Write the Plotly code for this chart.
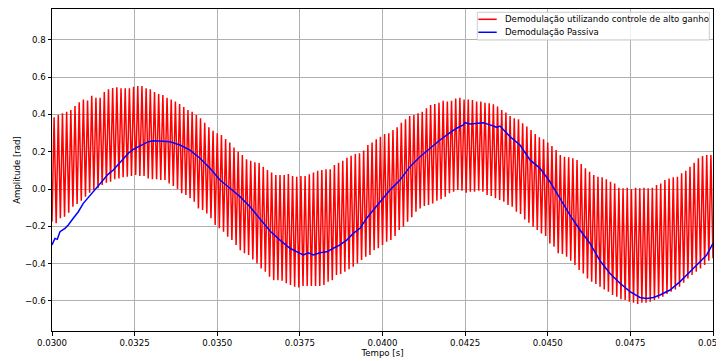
import numpy as np
import plotly.graph_objects as go

# Upper envelope (peaks) of the high-gain demodulation, one per cycle
red_peaks = [0.385,0.397,0.406,0.415,0.424,0.446,0.465,0.48,0.475,0.50,
0.49,0.49,0.52,0.535,0.542,0.546,0.54,0.54,0.54,0.549,
0.553,0.553,0.54,0.535,0.52,0.51,0.505,0.49,0.48,0.469,
0.456,0.44,0.424,0.415,0.397,0.38,0.356,0.331,0.313,0.299,
0.29,0.268,0.249,0.222,0.2,0.183,0.159,0.152,0.143,0.14,
0.12,0.102,0.088,0.075,0.075,0.075,0.08,0.07,0.066,0.07,
0.07,0.079,0.088,0.098,0.102,0.106,0.106,0.129,0.141,0.152,
0.168,0.179,0.188,0.192,0.206,0.236,0.249,0.267,0.281,0.295,
0.299,0.317,0.331,0.356,0.374,0.392,0.397,0.406,0.415,0.433,
0.451,0.456,0.463,0.474,0.469,0.474,0.486,0.49,0.48,0.48,
0.478,0.469,0.469,0.463,0.46,0.455,0.442,0.424,0.41,0.392,
0.38,0.374,0.353,0.335,0.317,0.295,0.277,0.267,0.249,0.231,
0.209,0.183,0.173,0.17,0.165,0.156,0.134,0.111,0.093,0.075,
0.066,0.063,0.052,0.039,0.03,0.007,0.004,0.007,0.0,0.007,
0.004,0.007,0.004,0.007,0.021,0.03,0.048,0.057,0.063,0.066,
0.084,0.098,0.12,0.141,0.165,0.177,0.183,0.183]

# Lower envelope (troughs), one before each peak plus the final one
red_troughs = [-0.175,-0.184,-0.157,-0.149,-0.127,-0.095,-0.08,-0.063,-0.041,-0.02,
-0.005,0.004,0.021,0.034,0.039,0.052,0.057,0.063,0.066,0.07,
0.075,0.07,0.07,0.057,0.052,0.052,0.048,0.048,
0.03,0.016,0.0,-0.023,-0.032,-0.05,-0.068,-0.104,-0.113,-0.131,
-0.157,-0.193,-0.211,-0.229,-0.256,-0.274,-0.3,-0.328,-0.345,-0.354,
-0.378,-0.4,-0.426,-0.444,-0.471,-0.489,
-0.489,-0.492,-0.506,-0.515,-0.524,-0.528,-0.52,-0.52,-0.52,-0.52,
-0.52,-0.515,-0.497,-0.489,-0.462,-0.456,-0.444,-0.431,-0.417,-0.4,
-0.381,-0.363,-0.354,-0.328,-0.318,-0.3,-0.283,
-0.274,-0.252,-0.22,-0.202,-0.175,-0.152,-0.122,-0.104,-0.091,-0.086,
-0.077,-0.063,-0.055,-0.041,-0.023,-0.014,-0.005,-0.009,-0.02,-0.014,
-0.014,-0.009,-0.014,-0.032,-0.038,
-0.05,-0.059,-0.068,-0.086,-0.095,-0.122,-0.134,-0.163,-0.181,-0.202,
-0.22,-0.238,-0.252,-0.292,-0.31,-0.345,-0.349,-0.363,-0.385,-0.408,
-0.435,-0.453,-0.48,-0.497,-0.51,-0.524,-0.539,
-0.551,-0.569,-0.578,-0.592,-0.596,-0.605,-0.61,-0.617,-0.61,-0.61,
-0.605,-0.596,-0.587,-0.578,-0.564,-0.551,-0.539,-0.524,-0.503,-0.48,
-0.462,-0.444,-0.426,-0.408,-0.385,-0.372]

# Passive demodulation
blue_t = [0.03,0.030091,0.03016,0.030242,0.030393,0.030493,0.030644,0.030796,0.030947,0.031098,
0.03125,0.031401,0.031552,0.031703,0.031855,0.032006,0.032157,0.032309,0.03246,0.032611,
0.032762,0.032914,0.033065,0.033216,0.033368,0.03357,0.033873,0.034175,0.034478,0.034781,
0.035083,0.035386,0.035688,0.035991,0.036293,0.036596,0.036899,0.037201,0.037504,0.037604,
0.037755,0.037906,0.038109,0.038312,0.038511,0.038714,0.038917,0.039116,0.039319,0.039522,
0.039722,0.039924,0.040227,0.04053,0.040832,0.041135,0.041437,0.04174,0.042042,0.042245,
0.042445,0.042496,0.042648,0.04285,0.04305,0.043253,0.043455,0.043555,0.043858,0.04416,
0.044463,0.044766,0.045068,0.045371,0.045673,0.045976,0.046278,0.046581,0.046884,0.047186,
0.047489,0.047791,0.047994,0.048194,0.048396,0.048699,0.049002,0.049304,0.049607,0.04981,0.05]
blue_v = [-0.30,-0.265,-0.27,-0.229,-0.211,-0.193,-0.157,-0.122,-0.077,-0.045,
-0.014,0.021,0.052,0.08,0.102,0.134,0.165,0.192,0.213,0.227,
0.24,0.254,0.259,0.259,0.256,0.254,0.236,0.209,0.165,0.111,
0.048,0.004,-0.041,-0.095,-0.157,-0.225,-0.274,-0.318,-0.345,-0.354,
-0.342,-0.354,-0.342,-0.337,-0.318,-0.3,-0.274,-0.238,-0.211,-0.157,
-0.113,-0.07,-0.005,0.048,0.12,0.173,0.218,0.263,0.302,0.326,
0.344,0.356,0.349,0.353,0.356,0.344,0.331,0.338,0.281,0.236,
0.156,0.111,0.039,-0.05,-0.14,-0.22,-0.292,-0.385,-0.453,-0.506,
-0.551,-0.582,-0.587,-0.582,-0.569,-0.542,-0.497,-0.444,-0.39,-0.354,-0.292]

x_ticks = [0.03, 0.0325, 0.035, 0.0375, 0.04, 0.0425, 0.045, 0.0475, 0.05]
x_labels = ["0.0300", "0.0325", "0.0350", "0.0375", "0.0400", "0.0425", "0.0450", "0.0475", "0.0500"]
y_ticks = [-0.6, -0.4, -0.2, 0.0, 0.2, 0.4, 0.6, 0.8]
y_labels = ["\u22120.6", "\u22120.4", "\u22120.2", "0.0", "0.2", "0.4", "0.6", "0.8"]

series_names = ["Demodulação utilizando controle de alto ganho", "Demodulação Passiva"]
series_colors = ["#ff0000", "#0000ff"]

red_v = [red_troughs[0]]
for k in range(len(red_peaks)):
    red_v.append(red_peaks[k])
    red_v.append(red_troughs[k + 1])
red_t = np.linspace(0.03, 0.05, len(red_v))

FONT = "DejaVu Sans"
FS = 8.6
fig = go.Figure()
fig.add_trace(go.Scatter(x=red_t, y=red_v, mode="lines",
                         line=dict(color=series_colors[0], width=1.5),
                         name=series_names[0], showlegend=False))
fig.add_trace(go.Scatter(x=blue_t, y=blue_v, mode="lines",
                         line=dict(color=series_colors[1], width=1.5),
                         name=series_names[1], showlegend=False))

axis_common = dict(showline=True, linecolor="black", linewidth=1, mirror=True,
                   ticks="outside", ticklen=3.5, tickcolor="black", tickwidth=0.8,
                   showgrid=True, gridcolor="#b0b0b0", gridwidth=0.8, zeroline=False,
                   automargin=False, ticklabeloverflow="allow",
                   tickfont=dict(family=FONT, size=FS, color="black"))

# Legend box drawn in paper coordinates (matplotlib-style compact legend)
shapes = [dict(type="rect", xref="paper", yref="paper", x0=0.6434, x1=0.9944, y0=0.9037, y1=0.9898,
               line=dict(color="#cccccc", width=1), fillcolor="rgba(255,255,255,0.8)", layer="above")]
annotations = []
leg_y = [0.968, 0.9277]
for name, col, yy in zip(series_names, series_colors, leg_y):
    shapes.append(dict(type="line", xref="paper", yref="paper", x0=0.6449, x1=0.6728, y0=yy, y1=yy,
                       line=dict(color=col, width=1.5), layer="above"))
    annotations.append(dict(xref="paper", yref="paper", x=0.6828, y=yy, text=name, showarrow=False,
                            xanchor="left", yanchor="middle", font=dict(family=FONT, size=FS, color="black")))

fig.update_layout(
    width=724, height=353,
    margin=dict(l=44, r=19, t=1, b=30, autoexpand=False),
    paper_bgcolor="white", plot_bgcolor="white",
    font=dict(family=FONT, size=FS, color="black"),
    xaxis=dict(range=[0.03 - 1e-9, 0.05 + 1e-9], tickvals=x_ticks, ticktext=x_labels,
               title=dict(text="Tempo [s]", font=dict(family=FONT, size=FS), standoff=3),
               **axis_common),
    yaxis=dict(range=[-0.762, 0.966], tickvals=y_ticks, ticktext=y_labels,
               title=dict(text="Amplitude [rad]", font=dict(family=FONT, size=FS), standoff=2),
               **axis_common),
    shapes=shapes, annotations=annotations,
    showlegend=False,
)

fig.write_html("out.html")
